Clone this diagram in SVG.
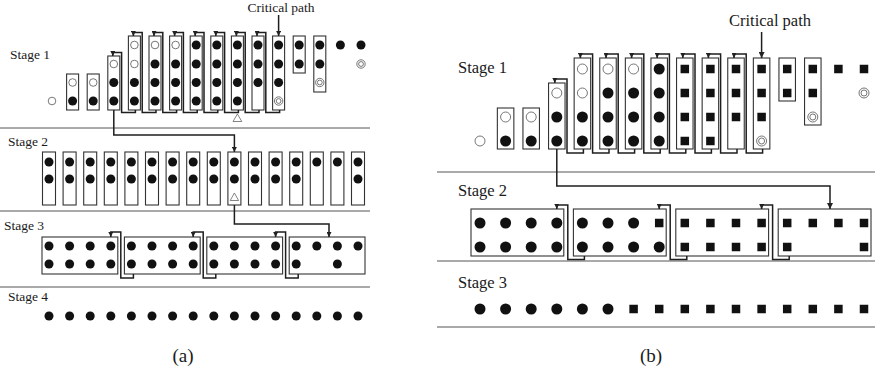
<svg xmlns="http://www.w3.org/2000/svg" width="875" height="372" viewBox="0 0 875 372">
<style>
text{font-family:"Liberation Serif","Times New Roman",serif;fill:#1a1a1a}
.la{font-size:13.5px}
.lb{font-size:16.5px}
.cap{font-size:19px}
.box{fill:none;stroke:#333;stroke-width:1.1}
.dot{fill:#111}
.sq{fill:#111}
.open{fill:#fff;stroke:#555;stroke-width:0.8}
.ring{fill:#fff;stroke:#666;stroke-width:0.9}
.sep{stroke:#555;stroke-width:1}
.loop{fill:none;stroke:#1e1e1e;stroke-width:1.5}
.link{fill:none;stroke:#1e1e1e;stroke-width:1.5}
.tri{fill:#fff;stroke:#666;stroke-width:0.8}
</style>
<defs>
<marker id="ahA" markerWidth="5" markerHeight="5" refX="5" refY="2.5" orient="auto" markerUnits="userSpaceOnUse"><path d="M0,0 L5,2.5 L0,5 z" fill="#222"/></marker>
<marker id="ahB" markerWidth="6" markerHeight="6" refX="6" refY="3" orient="auto" markerUnits="userSpaceOnUse"><path d="M0,0 L6,3 L0,6 z" fill="#222"/></marker>
</defs>

<!-- ===== Panel (a) ===== -->
<g id="a-separators">
<line class="sep" x1="0" y1="128" x2="370" y2="128"/>
<line class="sep" x1="0" y1="211" x2="370" y2="211"/>
<line class="sep" x1="0" y1="287" x2="370" y2="287"/>
</g>
<g id="a-labels">
<text class="la" x="10" y="59">Stage 1</text>
<text class="la" x="8" y="146">Stage 2</text>
<text class="la" x="4" y="230">Stage 3</text>
<text class="la" x="8" y="301">Stage 4</text>
<text class="la" x="281" y="12" text-anchor="middle">Critical path</text>
<text class="cap" x="183" y="362" text-anchor="middle">(a)</text>
</g>

<!-- stage 1 (a) -->
<g id="a1-c0"><circle class="open" cx="52" cy="101" r="3.8"/></g>
<g id="a1-c1"><rect class="box" x="66.6" y="74" width="12" height="36"/><circle class="open" cx="72.6" cy="82.5" r="3.8"/><circle class="dot" cx="72.6" cy="101" r="4.5"/></g>
<g id="a1-c2"><rect class="box" x="87.2" y="74" width="12" height="36"/><circle class="open" cx="93.2" cy="82.5" r="3.8"/><circle class="dot" cx="93.2" cy="101" r="4.5"/></g>
<g id="a1-c3"><rect class="box" x="107.8" y="56" width="12" height="54"/><circle class="open" cx="113.8" cy="64" r="3.8"/><circle class="dot" cx="113.8" cy="82.5" r="4.5"/><circle class="dot" cx="113.8" cy="101" r="4.5"/></g>
<g id="a1-c4"><rect class="box" x="128.4" y="36" width="12" height="74"/><circle class="open" cx="134.4" cy="45" r="3.8"/><circle class="open" cx="134.4" cy="64" r="3.8"/><circle class="dot" cx="134.4" cy="82.5" r="4.5"/><circle class="dot" cx="134.4" cy="101" r="4.5"/></g>
<g id="a1-c5"><rect class="box" x="149" y="36" width="12" height="74"/><circle class="open" cx="155" cy="45" r="3.8"/><circle class="dot" cx="155" cy="64" r="4.5"/><circle class="dot" cx="155" cy="82.5" r="4.5"/><circle class="dot" cx="155" cy="101" r="4.5"/></g>
<g id="a1-c6"><rect class="box" x="169.6" y="36" width="12" height="74"/><circle class="open" cx="175.6" cy="45" r="3.8"/><circle class="dot" cx="175.6" cy="64" r="4.5"/><circle class="dot" cx="175.6" cy="82.5" r="4.5"/><circle class="dot" cx="175.6" cy="101" r="4.5"/></g>
<g id="a1-c7"><rect class="box" x="190.2" y="36" width="12" height="74"/><circle class="dot" cx="196.2" cy="45" r="4.5"/><circle class="dot" cx="196.2" cy="64" r="4.5"/><circle class="dot" cx="196.2" cy="82.5" r="4.5"/><circle class="dot" cx="196.2" cy="101" r="4.5"/></g>
<g id="a1-c8"><rect class="box" x="210.8" y="36" width="12" height="74"/><circle class="dot" cx="216.8" cy="45" r="4.5"/><circle class="dot" cx="216.8" cy="64" r="4.5"/><circle class="dot" cx="216.8" cy="82.5" r="4.5"/><circle class="dot" cx="216.8" cy="101" r="4.5"/></g>
<g id="a1-c9"><rect class="box" x="231.4" y="36" width="12" height="74"/><circle class="dot" cx="237.4" cy="45" r="4.5"/><circle class="dot" cx="237.4" cy="64" r="4.5"/><circle class="dot" cx="237.4" cy="82.5" r="4.5"/><circle class="dot" cx="237.4" cy="101" r="4.5"/><polygon class="tri" points="237.4,114 233,121.5 241.8,121.5"/></g>
<g id="a1-c10"><rect class="box" x="252" y="36" width="12" height="74"/><circle class="dot" cx="258" cy="45" r="4.5"/><circle class="dot" cx="258" cy="64" r="4.5"/><circle class="dot" cx="258" cy="82.5" r="4.5"/></g>
<g id="a1-c11"><rect class="box" x="272.6" y="36" width="12" height="74"/><circle class="dot" cx="278.6" cy="45" r="4.5"/><circle class="dot" cx="278.6" cy="64" r="4.5"/><circle class="dot" cx="278.6" cy="82.5" r="4.5"/><circle class="ring" cx="278.6" cy="101" r="4.2"/><circle class="ring" cx="278.6" cy="101" r="2.4"/></g>
<g id="a1-c12"><rect class="box" x="293.2" y="36" width="12" height="37"/><circle class="dot" cx="299.2" cy="45" r="4.5"/><circle class="dot" cx="299.2" cy="64" r="4.5"/></g>
<g id="a1-c13"><rect class="box" x="313.8" y="36" width="12" height="56"/><circle class="dot" cx="319.8" cy="45" r="4.5"/><circle class="dot" cx="319.8" cy="64" r="4.5"/><circle class="ring" cx="319.8" cy="82.5" r="4.2"/><circle class="ring" cx="319.8" cy="82.5" r="2.4"/></g>
<g id="a1-c14"><circle class="dot" cx="340.4" cy="45" r="4.5"/></g>
<g id="a1-c15"><circle class="dot" cx="361" cy="45" r="4.5"/><circle class="ring" cx="361" cy="64" r="4.2"/><circle class="ring" cx="361" cy="64" r="2.4"/></g>

<!-- stage 2 (a) -->
<g id="a2-c0"><rect class="box" x="42.5" y="152" width="13" height="53"/><circle class="dot" cx="49" cy="162" r="4.5"/><circle class="dot" cx="49" cy="179" r="4.5"/></g>
<g id="a2-c1"><rect class="box" x="63.1" y="152" width="13" height="53"/><circle class="dot" cx="69.6" cy="162" r="4.5"/><circle class="dot" cx="69.6" cy="179" r="4.5"/></g>
<g id="a2-c2"><rect class="box" x="83.7" y="152" width="13" height="53"/><circle class="dot" cx="90.2" cy="162" r="4.5"/><circle class="dot" cx="90.2" cy="179" r="4.5"/></g>
<g id="a2-c3"><rect class="box" x="104.3" y="152" width="13" height="53"/><circle class="dot" cx="110.8" cy="162" r="4.5"/><circle class="dot" cx="110.8" cy="179" r="4.5"/></g>
<g id="a2-c4"><rect class="box" x="124.9" y="152" width="13" height="53"/><circle class="dot" cx="131.4" cy="162" r="4.5"/><circle class="dot" cx="131.4" cy="179" r="4.5"/></g>
<g id="a2-c5"><rect class="box" x="145.5" y="152" width="13" height="53"/><circle class="dot" cx="152" cy="162" r="4.5"/><circle class="dot" cx="152" cy="179" r="4.5"/></g>
<g id="a2-c6"><rect class="box" x="166.1" y="152" width="13" height="53"/><circle class="dot" cx="172.6" cy="162" r="4.5"/><circle class="dot" cx="172.6" cy="179" r="4.5"/></g>
<g id="a2-c7"><rect class="box" x="186.7" y="152" width="13" height="53"/><circle class="dot" cx="193.2" cy="162" r="4.5"/><circle class="dot" cx="193.2" cy="179" r="4.5"/></g>
<g id="a2-c8"><rect class="box" x="207.3" y="152" width="13" height="53"/><circle class="dot" cx="213.8" cy="162" r="4.5"/><circle class="dot" cx="213.8" cy="179" r="4.5"/></g>
<g id="a2-c9"><rect class="box" x="227.9" y="152" width="13" height="53"/><circle class="dot" cx="234.4" cy="162" r="4.5"/><circle class="dot" cx="234.4" cy="179" r="4.5"/><polygon class="tri" points="234.4,193 230.2,200.5 238.6,200.5"/></g>
<g id="a2-c10"><rect class="box" x="248.5" y="152" width="13" height="53"/><circle class="dot" cx="255" cy="162" r="4.5"/><circle class="dot" cx="255" cy="179" r="4.5"/></g>
<g id="a2-c11"><rect class="box" x="269.1" y="152" width="13" height="53"/><circle class="dot" cx="275.6" cy="162" r="4.5"/><circle class="dot" cx="275.6" cy="179" r="4.5"/></g>
<g id="a2-c12"><rect class="box" x="289.7" y="152" width="13" height="53"/><circle class="dot" cx="296.2" cy="162" r="4.5"/><circle class="dot" cx="296.2" cy="179" r="4.5"/></g>
<g id="a2-c13"><rect class="box" x="310.3" y="152" width="13" height="53"/><circle class="dot" cx="316.8" cy="162" r="4.5"/></g>
<g id="a2-c14"><rect class="box" x="330.9" y="152" width="13" height="53"/><circle class="dot" cx="337.4" cy="162" r="4.5"/></g>
<g id="a2-c15"><rect class="box" x="351.5" y="152" width="13" height="53"/><circle class="dot" cx="358" cy="162" r="4.5"/><circle class="dot" cx="358" cy="179" r="4.5"/></g>

<!-- stage 3 (a) -->
<g id="a3-g0"><rect class="box" x="42" y="237" width="75.8" height="37"/>
<circle class="dot" cx="49" cy="246" r="4.5"/><circle class="dot" cx="69.6" cy="246" r="4.5"/><circle class="dot" cx="90.2" cy="246" r="4.5"/><circle class="dot" cx="110.8" cy="246" r="4.5"/>
<circle class="dot" cx="49" cy="264" r="4.5"/><circle class="dot" cx="69.6" cy="264" r="4.5"/><circle class="dot" cx="90.2" cy="264" r="4.5"/><circle class="dot" cx="110.8" cy="264" r="4.5"/></g>
<g id="a3-g1"><rect class="box" x="124.4" y="237" width="75.8" height="37"/>
<circle class="dot" cx="131.4" cy="246" r="4.5"/><circle class="dot" cx="152" cy="246" r="4.5"/><circle class="dot" cx="172.6" cy="246" r="4.5"/><circle class="dot" cx="193.2" cy="246" r="4.5"/>
<circle class="dot" cx="131.4" cy="264" r="4.5"/><circle class="dot" cx="152" cy="264" r="4.5"/><circle class="dot" cx="172.6" cy="264" r="4.5"/><circle class="dot" cx="193.2" cy="264" r="4.5"/></g>
<g id="a3-g2"><rect class="box" x="206.8" y="237" width="75.8" height="37"/>
<circle class="dot" cx="213.8" cy="246" r="4.5"/><circle class="dot" cx="234.4" cy="246" r="4.5"/><circle class="dot" cx="255" cy="246" r="4.5"/><circle class="dot" cx="275.6" cy="246" r="4.5"/>
<circle class="dot" cx="213.8" cy="264" r="4.5"/><circle class="dot" cx="234.4" cy="264" r="4.5"/><circle class="dot" cx="255" cy="264" r="4.5"/><circle class="dot" cx="275.6" cy="264" r="4.5"/></g>
<g id="a3-g3"><rect class="box" x="289.2" y="237" width="75.8" height="37"/>
<circle class="dot" cx="296.2" cy="246" r="4.5"/><circle class="dot" cx="316.8" cy="246" r="4.5"/><circle class="dot" cx="337.4" cy="246" r="4.5"/><circle class="dot" cx="358" cy="246" r="4.5"/>
<circle class="dot" cx="296.2" cy="264" r="4.5"/><circle class="dot" cx="337.4" cy="264" r="4.5"/></g>

<!-- stage 4 (a) -->
<g id="a4-row">
<circle class="dot" cx="49" cy="316" r="4.5"/><circle class="dot" cx="69.6" cy="316" r="4.5"/><circle class="dot" cx="90.2" cy="316" r="4.5"/><circle class="dot" cx="110.8" cy="316" r="4.5"/>
<circle class="dot" cx="131.4" cy="316" r="4.5"/><circle class="dot" cx="152" cy="316" r="4.5"/><circle class="dot" cx="172.6" cy="316" r="4.5"/><circle class="dot" cx="193.2" cy="316" r="4.5"/>
<circle class="dot" cx="213.8" cy="316" r="4.5"/><circle class="dot" cx="234.4" cy="316" r="4.5"/><circle class="dot" cx="255" cy="316" r="4.5"/><circle class="dot" cx="275.6" cy="316" r="4.5"/>
<circle class="dot" cx="296.2" cy="316" r="4.5"/><circle class="dot" cx="316.8" cy="316" r="4.5"/><circle class="dot" cx="337.4" cy="316" r="4.5"/><circle class="dot" cx="358" cy="316" r="4.5"/>
</g>

<!-- connectors (a) -->
<g id="a-connectors">
<path class="link" d="M278.6,15 V36" marker-end="url(#ahA)"/>
<path class="loop" d="M135.4,110 V112.5 H121.6 V52.5 H112.8 V56" marker-end="url(#ahA)"/>
<path class="loop" d="M156,110 V112.5 H142.2 V32.5 H133.4 V36" marker-end="url(#ahA)"/>
<path class="loop" d="M176.6,110 V112.5 H162.8 V32.5 H154 V36" marker-end="url(#ahA)"/>
<path class="loop" d="M197.2,110 V112.5 H183.4 V32.5 H174.6 V36" marker-end="url(#ahA)"/>
<path class="loop" d="M217.8,110 V112.5 H204 V32.5 H195.2 V36" marker-end="url(#ahA)"/>
<path class="loop" d="M238.4,110 V112.5 H224.6 V32.5 H215.8 V36" marker-end="url(#ahA)"/>
<path class="loop" d="M259,110 V112.5 H245.2 V32.5 H236.4 V36" marker-end="url(#ahA)"/>
<path class="loop" d="M279.6,110 V112.5 H265.8 V32.5 H257 V36" marker-end="url(#ahA)"/>
<path class="link" d="M113.8,110 V135 H234.4 V152" marker-end="url(#ahA)"/>
<path class="link" d="M234.4,205 V224 H329 V237" marker-end="url(#ahA)"/>
<path class="loop" d="M133.4,274 V278 H120.8 V232 H110.8 V237" marker-end="url(#ahA)"/>
<path class="loop" d="M215.8,274 V278 H203.2 V232 H193.2 V237" marker-end="url(#ahA)"/>
<path class="loop" d="M298.2,274 V278 H285.6 V232 H275.6 V237" marker-end="url(#ahA)"/>
</g>

<!-- ===== Panel (b) ===== -->
<g id="b-separators">
<line class="sep" x1="437" y1="172" x2="875" y2="172"/>
<line class="sep" x1="437" y1="261" x2="875" y2="261"/>
<line class="sep" x1="437" y1="327" x2="875" y2="327"/>
</g>
<g id="b-labels">
<text class="lb" x="458" y="73">Stage 1</text>
<text class="lb" x="458" y="196">Stage 2</text>
<text class="lb" x="458" y="288">Stage 3</text>
<text class="lb" x="770" y="26" text-anchor="middle">Critical path</text>
<text class="cap" x="651" y="362" text-anchor="middle">(b)</text>
</g>

<!-- stage 1 (b) -->
<g id="b1-c0"><circle class="open" cx="480" cy="141" r="5"/></g>
<g id="b1-c1"><rect class="box" x="497.35" y="108" width="16.5" height="41"/><circle class="open" cx="505.6" cy="117" r="5"/><circle class="dot" cx="505.6" cy="141" r="5.5"/></g>
<g id="b1-c2"><rect class="box" x="522.95" y="108" width="16.5" height="41"/><circle class="open" cx="531.2" cy="117" r="5"/><circle class="dot" cx="531.2" cy="141" r="5.5"/></g>
<g id="b1-c3"><rect class="box" x="548.55" y="83" width="16.5" height="66"/><circle class="open" cx="556.8" cy="93" r="5"/><circle class="dot" cx="556.8" cy="117" r="5.5"/><circle class="dot" cx="556.8" cy="141" r="5.5"/></g>
<g id="b1-c4"><rect class="box" x="574.15" y="58" width="16.5" height="91"/><circle class="open" cx="582.4" cy="69" r="5"/><circle class="open" cx="582.4" cy="93" r="5"/><circle class="dot" cx="582.4" cy="117" r="5.5"/><circle class="dot" cx="582.4" cy="141" r="5.5"/></g>
<g id="b1-c5"><rect class="box" x="599.75" y="58" width="16.5" height="91"/><circle class="open" cx="608" cy="69" r="5"/><circle class="dot" cx="608" cy="93" r="5.5"/><circle class="dot" cx="608" cy="117" r="5.5"/><circle class="dot" cx="608" cy="141" r="5.5"/></g>
<g id="b1-c6"><rect class="box" x="625.35" y="58" width="16.5" height="91"/><circle class="open" cx="633.6" cy="69" r="5"/><circle class="dot" cx="633.6" cy="93" r="5.5"/><circle class="dot" cx="633.6" cy="117" r="5.5"/><circle class="dot" cx="633.6" cy="141" r="5.5"/></g>
<g id="b1-c7"><rect class="box" x="650.95" y="58" width="16.5" height="91"/><circle class="dot" cx="659.2" cy="69" r="5.5"/><circle class="dot" cx="659.2" cy="93" r="5.5"/><circle class="dot" cx="659.2" cy="117" r="5.5"/><circle class="dot" cx="659.2" cy="141" r="5.5"/></g>
<g id="b1-c8"><rect class="box" x="676.55" y="58" width="16.5" height="91"/><rect class="sq" x="680.55" y="64.75" width="8.5" height="8.5"/><rect class="sq" x="680.55" y="88.75" width="8.5" height="8.5"/><rect class="sq" x="680.55" y="112.75" width="8.5" height="8.5"/><rect class="sq" x="680.55" y="136.75" width="8.5" height="8.5"/></g>
<g id="b1-c9"><rect class="box" x="702.15" y="58" width="16.5" height="91"/><rect class="sq" x="706.15" y="64.75" width="8.5" height="8.5"/><rect class="sq" x="706.15" y="88.75" width="8.5" height="8.5"/><rect class="sq" x="706.15" y="112.75" width="8.5" height="8.5"/><rect class="sq" x="706.15" y="136.75" width="8.5" height="8.5"/></g>
<g id="b1-c10"><rect class="box" x="727.75" y="58" width="16.5" height="91"/><rect class="sq" x="731.75" y="64.75" width="8.5" height="8.5"/><rect class="sq" x="731.75" y="88.75" width="8.5" height="8.5"/><rect class="sq" x="731.75" y="112.75" width="8.5" height="8.5"/></g>
<g id="b1-c11"><rect class="box" x="753.35" y="58" width="16.5" height="91"/><rect class="sq" x="757.35" y="64.75" width="8.5" height="8.5"/><rect class="sq" x="757.35" y="88.75" width="8.5" height="8.5"/><rect class="sq" x="757.35" y="112.75" width="8.5" height="8.5"/><circle class="ring" cx="761.6" cy="141" r="5"/><circle class="ring" cx="761.6" cy="141" r="3"/></g>
<g id="b1-c12"><rect class="box" x="778.95" y="58" width="16.5" height="43"/><rect class="sq" x="782.95" y="64.75" width="8.5" height="8.5"/><rect class="sq" x="782.95" y="88.75" width="8.5" height="8.5"/></g>
<g id="b1-c13"><rect class="box" x="804.55" y="58" width="16.5" height="67"/><rect class="sq" x="808.55" y="64.75" width="8.5" height="8.5"/><rect class="sq" x="808.55" y="88.75" width="8.5" height="8.5"/><circle class="ring" cx="812.8" cy="117" r="5"/><circle class="ring" cx="812.8" cy="117" r="3"/></g>
<g id="b1-c14"><rect class="sq" x="834.15" y="64.75" width="8.5" height="8.5"/></g>
<g id="b1-c15"><rect class="sq" x="859.75" y="64.75" width="8.5" height="8.5"/><circle class="ring" cx="864" cy="93" r="5"/><circle class="ring" cx="864" cy="93" r="3"/></g>

<!-- stage 2 (b) -->
<g id="b2-g0"><rect class="box" x="471" y="209" width="92.8" height="47"/>
<circle class="dot" cx="480" cy="223" r="5.5"/><circle class="dot" cx="505.6" cy="223" r="5.5"/><circle class="dot" cx="531.2" cy="223" r="5.5"/><circle class="dot" cx="556.8" cy="223" r="5.5"/>
<circle class="dot" cx="480" cy="247" r="5.5"/><circle class="dot" cx="505.6" cy="247" r="5.5"/><circle class="dot" cx="531.2" cy="247" r="5.5"/><circle class="dot" cx="556.8" cy="247" r="5.5"/></g>
<g id="b2-g1"><rect class="box" x="573.4" y="209" width="92.8" height="47"/>
<circle class="dot" cx="582.4" cy="223" r="5.5"/><circle class="dot" cx="608" cy="223" r="5.5"/><circle class="dot" cx="633.6" cy="223" r="5.5"/><rect class="sq" x="654.95" y="218.75" width="8.5" height="8.5"/>
<circle class="dot" cx="582.4" cy="247" r="5.5"/><circle class="dot" cx="608" cy="247" r="5.5"/><circle class="dot" cx="633.6" cy="247" r="5.5"/><circle class="dot" cx="659.2" cy="247" r="5.5"/></g>
<g id="b2-g2"><rect class="box" x="675.8" y="209" width="92.8" height="47"/>
<rect class="sq" x="680.55" y="218.75" width="8.5" height="8.5"/><rect class="sq" x="706.15" y="218.75" width="8.5" height="8.5"/><rect class="sq" x="731.75" y="218.75" width="8.5" height="8.5"/><rect class="sq" x="757.35" y="218.75" width="8.5" height="8.5"/>
<rect class="sq" x="680.55" y="242.75" width="8.5" height="8.5"/><rect class="sq" x="706.15" y="242.75" width="8.5" height="8.5"/><rect class="sq" x="731.75" y="242.75" width="8.5" height="8.5"/><rect class="sq" x="757.35" y="242.75" width="8.5" height="8.5"/></g>
<g id="b2-g3"><rect class="box" x="778.2" y="209" width="92.8" height="47"/>
<rect class="sq" x="782.95" y="218.75" width="8.5" height="8.5"/><rect class="sq" x="808.55" y="218.75" width="8.5" height="8.5"/><rect class="sq" x="834.15" y="218.75" width="8.5" height="8.5"/><rect class="sq" x="859.75" y="218.75" width="8.5" height="8.5"/>
<rect class="sq" x="782.95" y="242.75" width="8.5" height="8.5"/><rect class="sq" x="859.75" y="242.75" width="8.5" height="8.5"/></g>

<!-- stage 3 (b) -->
<g id="b3-row">
<circle class="dot" cx="480" cy="309" r="5.5"/><circle class="dot" cx="505.6" cy="309" r="5.5"/><circle class="dot" cx="531.2" cy="309" r="5.5"/><circle class="dot" cx="556.8" cy="309" r="5.5"/><circle class="dot" cx="582.4" cy="309" r="5.5"/><circle class="dot" cx="608" cy="309" r="5.5"/>
<rect class="sq" x="629.35" y="304.75" width="8.5" height="8.5"/><rect class="sq" x="654.95" y="304.75" width="8.5" height="8.5"/><rect class="sq" x="680.55" y="304.75" width="8.5" height="8.5"/><rect class="sq" x="706.15" y="304.75" width="8.5" height="8.5"/><rect class="sq" x="731.75" y="304.75" width="8.5" height="8.5"/>
<rect class="sq" x="757.35" y="304.75" width="8.5" height="8.5"/><rect class="sq" x="782.95" y="304.75" width="8.5" height="8.5"/><rect class="sq" x="808.55" y="304.75" width="8.5" height="8.5"/><rect class="sq" x="834.15" y="304.75" width="8.5" height="8.5"/><rect class="sq" x="859.75" y="304.75" width="8.5" height="8.5"/>
</g>

<!-- connectors (b) -->
<g id="b-connectors">
<path class="link" d="M761.6,32 V58" marker-end="url(#ahB)"/>
<path class="loop" d="M583.4,149 V153 H567 V79 H554.8 V83" marker-end="url(#ahA)"/>
<path class="loop" d="M609,149 V153 H592.6 V54 H580.4 V58" marker-end="url(#ahA)"/>
<path class="loop" d="M634.6,149 V153 H618.2 V54 H606 V58" marker-end="url(#ahA)"/>
<path class="loop" d="M660.2,149 V153 H643.8 V54 H631.6 V58" marker-end="url(#ahA)"/>
<path class="loop" d="M685.8,149 V153 H669.4 V54 H657.2 V58" marker-end="url(#ahA)"/>
<path class="loop" d="M711.4,149 V153 H695 V54 H682.8 V58" marker-end="url(#ahA)"/>
<path class="loop" d="M737,149 V153 H720.6 V54 H708.4 V58" marker-end="url(#ahA)"/>
<path class="loop" d="M762.6,149 V153 H746.2 V54 H734 V58" marker-end="url(#ahA)"/>
<path class="link" d="M556.8,149 V186 H830 V209" marker-end="url(#ahB)"/>
<path class="loop" d="M584.4,256 V259.5 H567.8 V205 H556.8 V209" marker-end="url(#ahA)"/>
<path class="loop" d="M686.8,256 V259.5 H670.2 V205 H659.2 V209" marker-end="url(#ahA)"/>
<path class="loop" d="M789.2,256 V259.5 H772.6 V205 H761.6 V209" marker-end="url(#ahA)"/>
</g>
</svg>
